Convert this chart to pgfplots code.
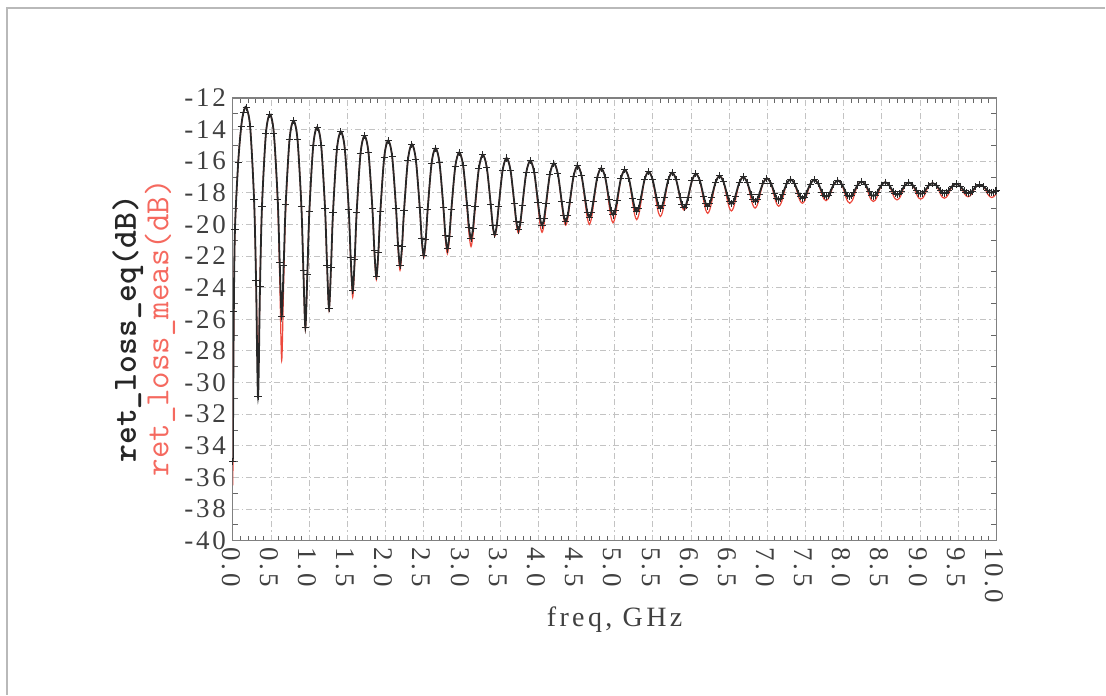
\documentclass[border=0pt]{standalone}
\usepackage{fontspec}
\usepackage{pgfplots}
\pgfplotsset{compat=1.18}
\setmainfont{Liberation Serif}
\newfontfamily\tickfont[LetterSpace=10]{Liberation Serif}
\newfontfamily\labfont[LetterSpace=12]{Liberation Serif}
\definecolor{meas}{RGB}{236,72,60}
\definecolor{measlab}{RGB}{245,105,95}
\definecolor{eqc}{RGB}{40,40,40}
\definecolor{gridc}{RGB}{195,195,195}
\begin{document}
\begin{tikzpicture}[x=1pt,y=1pt]
\path (0,0) rectangle (553,347.5);
\draw[gray!55, line width=0.8pt] (3.5,0) -- (3.5,343.5) -- (553,343.5);
\begin{axis}[at={(116.5pt,77pt)}, anchor=south west, scale only axis,
  width=382pt, height=221.5pt,
  xmin=0, xmax=10, ymin=-40, ymax=-12,
  xtick distance=0.5, ytick distance=2,
  minor x tick num=4, minor y tick num=1,
  grid=major,
  major grid style={gridc, dash pattern=on 3pt off 1.5pt on 0.8pt off 1.5pt, line width=0.4pt},
  axis line style={black!50, line width=0.6pt},
  tick style={black!60, line width=0.4pt},
  major tick length=0pt, minor tick length=2.5pt, tick align=inside,
  /pgf/number format/assume math mode=true,
  yticklabel style={font=\tickfont\fontsize{13.5}{14}\selectfont, text=black!75},
  xticklabel style={font=\tickfont\fontsize{13.5}{14}\selectfont, text=black!75,
     /pgf/number format/fixed, /pgf/number format/fixed zerofill, /pgf/number format/precision=1,
     rotate=-90, anchor=west, yshift=-1pt},
]
\addplot[meas, line width=0.6pt, smooth, no markers] coordinates {
(0,-36.5) (0.006,-30.5) (0.013,-25.8) (0.028,-20.4) (0.07,-16.1) (0.11,-13.8) (0.14,-12.9)
(0.175,-12.6) (0.227,-13.83) (0.278,-18.36) (0.304,-23.25) (0.330,-29.5) (0.356,-23.6) (0.382,-18.78) (0.433,-14.27)
(0.485,-13.05) (0.537,-14.22) (0.588,-18.72) (0.614,-23.36) (0.640,-28.6) (0.666,-23.65) (0.692,-19.09) (0.743,-14.62)
(0.795,-13.45) (0.847,-14.63) (0.898,-18.87) (0.924,-22.96) (0.950,-26.6) (0.976,-23.19) (1.002,-19.21) (1.053,-15.02)
(1.105,-13.85) (1.157,-15.0) (1.208,-19.02) (1.234,-22.62) (1.260,-25.4) (1.286,-22.76) (1.312,-19.25) (1.363,-15.27)
(1.415,-14.13) (1.467,-15.24) (1.518,-19.11) (1.544,-22.33) (1.570,-24.6) (1.596,-22.46) (1.622,-19.33) (1.673,-15.5)
(1.725,-14.4) (1.777,-15.47) (1.828,-19.06) (1.854,-21.8) (1.880,-23.5) (1.906,-21.91) (1.932,-19.27) (1.983,-15.75)
(2.035,-14.7) (2.087,-15.72) (2.138,-19.09) (2.164,-21.51) (2.190,-22.9) (2.216,-21.59) (2.242,-19.25) (2.293,-15.94)
(2.345,-14.93) (2.397,-15.9) (2.448,-18.97) (2.474,-21.02) (2.500,-22.1) (2.526,-21.09) (2.552,-19.13) (2.603,-16.14)
(2.655,-15.18) (2.707,-16.11) (2.758,-19.03) (2.784,-20.9) (2.810,-21.85) (2.836,-20.97) (2.862,-19.19) (2.913,-16.36)
(2.965,-15.45) (3.017,-16.3) (3.068,-19.01) (3.094,-20.62) (3.120,-21.4) (3.146,-20.65) (3.172,-19.09) (3.223,-16.44)
(3.275,-15.6) (3.327,-16.42) (3.378,-18.79) (3.404,-20.13) (3.430,-20.75) (3.456,-20.17) (3.482,-18.9) (3.533,-16.6)
(3.585,-15.8) (3.637,-16.57) (3.688,-18.79) (3.714,-20.01) (3.740,-20.55) (3.766,-20.04) (3.792,-18.88) (3.843,-16.73)
(3.895,-15.98) (3.947,-16.69) (3.998,-18.86) (4.024,-20.0) (4.050,-20.5) (4.076,-20.03) (4.102,-18.93) (4.153,-16.83)
(4.205,-16.13) (4.257,-16.8) (4.308,-18.7) (4.334,-19.64) (4.360,-20.05) (4.386,-19.67) (4.412,-18.77) (4.463,-16.95)
(4.515,-16.3) (4.567,-16.91) (4.618,-18.74) (4.644,-19.62) (4.670,-20.0) (4.696,-19.64) (4.722,-18.81) (4.773,-17.04)
(4.825,-16.45) (4.877,-17.02) (4.928,-18.75) (4.954,-19.56) (4.980,-19.9) (5.006,-19.57) (5.032,-18.79) (5.083,-17.11)
(5.135,-16.55) (5.187,-17.08) (5.238,-18.67) (5.264,-19.4) (5.290,-19.7) (5.316,-19.42) (5.342,-18.72) (5.393,-17.17)
(5.445,-16.66) (5.497,-17.14) (5.548,-18.6) (5.574,-19.24) (5.600,-19.5) (5.626,-19.25) (5.652,-18.62) (5.703,-17.19)
(5.755,-16.72) (5.807,-17.18) (5.858,-18.37) (5.884,-18.89) (5.910,-19.1) (5.936,-18.9) (5.962,-18.4) (6.013,-17.25)
(6.065,-16.8) (6.117,-17.23) (6.168,-18.53) (6.194,-19.08) (6.220,-19.3) (6.246,-19.09) (6.272,-18.58) (6.323,-17.34)
(6.375,-16.93) (6.427,-17.31) (6.478,-18.48) (6.504,-18.96) (6.530,-19.15) (6.556,-18.97) (6.582,-18.5) (6.633,-17.37)
(6.685,-17.0) (6.737,-17.34) (6.788,-18.39) (6.814,-18.8) (6.840,-18.97) (6.866,-18.81) (6.892,-18.41) (6.943,-17.41)
(6.995,-17.08) (7.047,-17.39) (7.098,-18.33) (7.124,-18.7) (7.150,-18.85) (7.176,-18.71) (7.202,-18.36) (7.253,-17.44)
(7.305,-17.15) (7.357,-17.42) (7.408,-18.23) (7.434,-18.54) (7.460,-18.66) (7.486,-18.54) (7.512,-18.24) (7.563,-17.45)
(7.615,-17.18) (7.667,-17.42) (7.718,-18.13) (7.744,-18.4) (7.770,-18.5) (7.796,-18.4) (7.822,-18.14) (7.873,-17.46)
(7.925,-17.22) (7.977,-17.46) (8.028,-18.25) (8.054,-18.55) (8.080,-18.66) (8.106,-18.55) (8.132,-18.27) (8.183,-17.51)
(8.235,-17.29) (8.287,-17.5) (8.338,-18.2) (8.364,-18.46) (8.390,-18.55) (8.416,-18.46) (8.442,-18.21) (8.493,-17.53)
(8.545,-17.33) (8.597,-17.52) (8.648,-18.14) (8.674,-18.37) (8.700,-18.45) (8.726,-18.37) (8.752,-18.15) (8.803,-17.53)
(8.855,-17.35) (8.907,-17.52) (8.958,-18.11) (8.984,-18.33) (9.010,-18.4) (9.036,-18.33) (9.062,-18.13) (9.113,-17.55)
(9.165,-17.39) (9.217,-17.54) (9.268,-18.08) (9.294,-18.28) (9.320,-18.34) (9.346,-18.28) (9.372,-18.1) (9.423,-17.58)
(9.475,-17.44) (9.527,-17.58) (9.578,-18.03) (9.604,-18.19) (9.630,-18.25) (9.656,-18.2) (9.682,-18.05) (9.733,-17.62)
(9.785,-17.5) (9.837,-17.62) (9.888,-18.09) (9.914,-18.24) (9.940,-18.3) (9.966,-18.25) (9.992,-18.1) (10.0,-18.06)
};
\addplot[eqc, line width=0.9pt, smooth, mark=+, mark size=1.8pt, mark options={line width=0.5pt}] coordinates {
(0,-35) (0.013,-25.5) (0.028,-20.3) (0.07,-16.1) (0.11,-13.8) (0.14,-12.9)
(0.175,-12.6) (0.227,-13.83) (0.278,-18.43) (0.304,-23.55) (0.330,-30.9) (0.356,-23.9) (0.382,-18.86) (0.433,-14.28)
(0.485,-13.05) (0.537,-14.22) (0.588,-18.43) (0.614,-22.38) (0.640,-25.8) (0.666,-22.6) (0.692,-18.77) (0.743,-14.62)
(0.795,-13.45) (0.847,-14.63) (0.898,-18.87) (0.924,-22.91) (0.950,-26.5) (0.976,-23.14) (1.002,-19.21) (1.053,-15.02)
(1.105,-13.85) (1.157,-15.0) (1.208,-19.02) (1.234,-22.57) (1.260,-25.3) (1.286,-22.71) (1.312,-19.25) (1.363,-15.27)
(1.415,-14.13) (1.467,-15.24) (1.518,-19.03) (1.544,-22.12) (1.570,-24.2) (1.596,-22.23) (1.622,-19.23) (1.673,-15.5)
(1.725,-14.4) (1.777,-15.47) (1.828,-19.0) (1.854,-21.67) (1.880,-23.3) (1.906,-21.78) (1.932,-19.21) (1.983,-15.75)
(2.035,-14.7) (2.087,-15.72) (2.138,-19.0) (2.164,-21.31) (2.190,-22.6) (2.216,-21.38) (2.242,-19.15) (2.293,-15.94)
(2.345,-14.93) (2.397,-15.9) (2.448,-18.92) (2.474,-20.91) (2.500,-21.95) (2.526,-20.98) (2.552,-19.07) (2.603,-16.14)
(2.655,-15.18) (2.707,-16.11) (2.758,-18.91) (2.784,-20.68) (2.810,-21.55) (2.836,-20.74) (2.862,-19.07) (2.913,-16.36)
(2.965,-15.45) (3.017,-16.3) (3.068,-18.78) (3.094,-20.22) (3.120,-20.9) (3.146,-20.25) (3.172,-18.86) (3.223,-16.44)
(3.275,-15.6) (3.327,-16.42) (3.378,-18.74) (3.404,-20.05) (3.430,-20.65) (3.456,-20.09) (3.482,-18.85) (3.533,-16.6)
(3.585,-15.8) (3.637,-16.57) (3.688,-18.69) (3.714,-19.84) (3.740,-20.35) (3.766,-19.88) (3.792,-18.78) (3.843,-16.73)
(3.895,-15.98) (3.947,-16.69) (3.998,-18.63) (4.024,-19.62) (4.050,-20.05) (4.076,-19.64) (4.102,-18.7) (4.153,-16.83)
(4.205,-16.13) (4.257,-16.8) (4.308,-18.56) (4.334,-19.43) (4.360,-19.8) (4.386,-19.45) (4.412,-18.63) (4.463,-16.95)
(4.515,-16.3) (4.567,-16.91) (4.618,-18.48) (4.644,-19.24) (4.670,-19.55) (4.696,-19.26) (4.722,-18.54) (4.773,-17.04)
(4.825,-16.45) (4.877,-17.02) (4.928,-18.45) (4.954,-19.13) (4.980,-19.4) (5.006,-19.14) (5.032,-18.49) (5.083,-17.11)
(5.135,-16.55) (5.187,-17.08) (5.238,-18.37) (5.264,-18.96) (5.290,-19.2) (5.316,-18.98) (5.342,-18.41) (5.393,-17.17)
(5.445,-16.66) (5.497,-17.14) (5.548,-18.29) (5.574,-18.8) (5.600,-19.0) (5.626,-18.8) (5.652,-18.31) (5.703,-17.19)
(5.755,-16.72) (5.807,-17.18) (5.858,-18.27) (5.884,-18.76) (5.910,-18.95) (5.936,-18.77) (5.962,-18.3) (6.013,-17.25)
(6.065,-16.8) (6.117,-17.23) (6.168,-18.24) (6.194,-18.68) (6.220,-18.85) (6.246,-18.69) (6.272,-18.28) (6.323,-17.34)
(6.375,-16.93) (6.427,-17.31) (6.478,-18.18) (6.504,-18.55) (6.530,-18.7) (6.556,-18.56) (6.582,-18.21) (6.633,-17.37)
(6.685,-17.0) (6.737,-17.34) (6.788,-18.11) (6.814,-18.43) (6.840,-18.55) (6.866,-18.43) (6.892,-18.13) (6.943,-17.41)
(6.995,-17.08) (7.047,-17.39) (7.098,-18.06) (7.124,-18.34) (7.150,-18.45) (7.176,-18.35) (7.202,-18.08) (7.253,-17.44)
(7.305,-17.15) (7.357,-17.42) (7.408,-18.02) (7.434,-18.26) (7.460,-18.35) (7.486,-18.27) (7.512,-18.03) (7.563,-17.45)
(7.615,-17.18) (7.667,-17.42) (7.718,-17.96) (7.744,-18.17) (7.770,-18.25) (7.796,-18.18) (7.822,-17.97) (7.873,-17.46)
(7.925,-17.22) (7.977,-17.46) (8.028,-17.97) (8.054,-18.18) (8.080,-18.25) (8.106,-18.19) (8.132,-17.99) (8.183,-17.51)
(8.235,-17.29) (8.287,-17.5) (8.338,-17.95) (8.364,-18.14) (8.390,-18.2) (8.416,-18.14) (8.442,-17.96) (8.493,-17.53)
(8.545,-17.33) (8.597,-17.52) (8.648,-17.92) (8.674,-18.07) (8.700,-18.13) (8.726,-18.07) (8.752,-17.92) (8.803,-17.53)
(8.855,-17.35) (8.907,-17.52) (8.958,-17.88) (8.984,-18.02) (9.010,-18.07) (9.036,-18.02) (9.062,-17.89) (9.113,-17.55)
(9.165,-17.39) (9.217,-17.54) (9.268,-17.85) (9.294,-17.98) (9.320,-18.02) (9.346,-17.98) (9.372,-17.87) (9.423,-17.58)
(9.475,-17.44) (9.527,-17.58) (9.578,-17.87) (9.604,-17.98) (9.630,-18.02) (9.656,-17.99) (9.682,-17.89) (9.733,-17.62)
(9.785,-17.5) (9.837,-17.62) (9.888,-17.87) (9.914,-17.97) (9.940,-18.0) (9.966,-17.97) (9.992,-17.89) (10.0,-17.86)
};
\end{axis}
\node[rotate=90, font=\ttfamily\bfseries\fontsize{17}{19}\selectfont, text=black!85] at (64,183) {ret\_loss\_eq(dB)};
\node[rotate=90, font=\ttfamily\fontsize{17}{19}\selectfont, text=measlab] at (80,183.5) {ret\_loss\_meas(dB)};
\node[font=\labfont\fontsize{14}{15}\selectfont, text=black!75] at (307.5,37.5) {freq, GHz};
\end{tikzpicture}
\end{document}
